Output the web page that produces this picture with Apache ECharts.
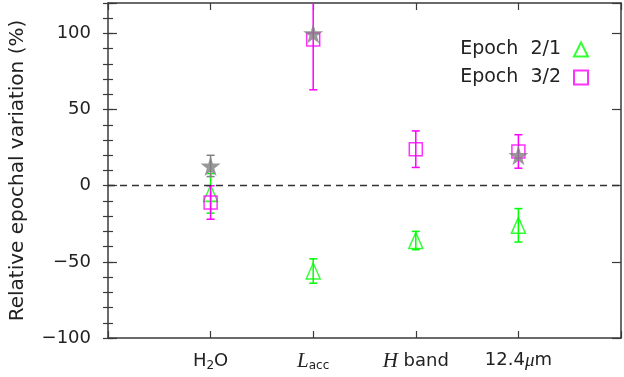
<!DOCTYPE html>
<html>
<head>
<meta charset="utf-8">
<script src="https://cdn.jsdelivr.net/npm/echarts@6/dist/echarts.min.js"></script>
<style>
  html, body { margin: 0; padding: 0; background: #fff; }
  #chart { width: 624px; height: 377px; }
</style>
</head>
<body>
<div id="chart"></div>
<script>
// categories along x (placed at 1..4)
const categories = ['H2O', 'Lacc', 'H band', '12.4um']
const catLabels = ['H{sub|2}O', '{it|L}{sub|acc}', '{it|H} band', '12.4{mu|μ}m']

// Epoch 2/1 (green triangles)
const epoch21 = [-5, -56, -36, -26]
const epoch21Err = [13, 8, 6, 11]
// Epoch 3/2 (magenta squares)
const epoch32 = [-11, 96, 24, 22.5]
const epoch32Err = [11, 33, 12, 11]
// grey stars
const stars = [13, 100, null, 20]
const starErr = [7, 0, null, 0]

const yTicks = [-100, -50, 0, 50, 100]

const GREEN = '#00ff00'
const MAGENTA = '#ff00ff'
const GREY = '#808080'
const AXIS = '#3a3a3a'
const FONT = 'DejaVu Sans'

const pts = (vals, errs) => vals.map((v, i) => v == null ? null : [i + 1, v, errs[i]]).filter(d => d)

const errorBars = (name, color, data, z) => ({
  type: 'custom',
  name: name,
  clip: true,
  z: z,
  renderItem: (params, api) => {
    const x = api.value(0), y = api.value(1), e = api.value(2)
    if (!e) return null
    const hi = api.coord([x, y + e])
    const lo = api.coord([x, y - e])
    const w = 4
    const st = { stroke: color, lineWidth: 1.5 }
    return {
      type: 'group',
      children: [
        { type: 'line', shape: { x1: hi[0], y1: hi[1], x2: lo[0], y2: lo[1] }, style: st },
        { type: 'line', shape: { x1: hi[0] - w, y1: hi[1], x2: hi[0] + w, y2: hi[1] }, style: st },
        { type: 'line', shape: { x1: lo[0] - w, y1: lo[1], x2: lo[0] + w, y2: lo[1] }, style: st }
      ]
    }
  },
  encode: { x: 0, y: 1 },
  data: data
})

const starPath = 'path://M50,0 L61,35 L98,35 L68,57 L79,91 L50,70 L21,91 L32,57 L2,35 L39,35 Z'

const yAxisBase = {
  type: 'value', min: -100, max: 120,
  splitLine: { show: false },
  axisLine: { show: false },
  axisLabel: { show: false }
}

const chart = echarts.init(document.getElementById('chart'))
chart.setOption({
  animation: false,
  backgroundColor: '#fff',
  grid: { left: 107, top: 3, width: 519, height: 335 },
  legend: {
    orient: 'vertical',
    right: 30,
    top: 35,
    align: 'right',
    itemWidth: 14,
    itemHeight: 14,
    itemGap: 9,
    data: ['Epoch 2/1', 'Epoch 3/2'],
    formatter: n => n.replace(' ', '  '),
    textStyle: { fontFamily: FONT, fontSize: 19, color: '#222', padding: [0, 8, 0, 0] }
  },
  xAxis: [{
    type: 'value', min: 0, max: 5, interval: 1,
    splitLine: { show: false },
    axisLine: { show: true, onZero: false, lineStyle: { color: AXIS, width: 1.5 } },
    axisTick: { show: true, inside: true, length: 7, lineStyle: { color: AXIS, width: 1.2 } },
    axisLabel: {
      margin: 13,
      fontFamily: FONT, fontSize: 18, color: '#222',
      formatter: v => (v >= 1 && v <= 4) ? catLabels[v - 1] : '',
      rich: {
        sub: { fontFamily: FONT, fontSize: 12, color: '#222', padding: [9, 0, 0, 0] },
        it: { fontFamily: 'Liberation Serif', fontStyle: 'italic', fontSize: 21, color: '#222' },
        mu: { fontFamily: 'Liberation Serif', fontStyle: 'italic', fontSize: 19, color: '#222' }
      }
    }
  }, {
    type: 'value', min: 0, max: 5, interval: 1, position: 'top',
    splitLine: { show: false },
    axisLine: { show: true, onZero: false, lineStyle: { color: AXIS, width: 1.5 } },
    axisTick: { show: true, inside: true, length: 7, lineStyle: { color: AXIS, width: 1.2 } },
    axisLabel: { show: false }
  }],
  yAxis: [{
    type: 'value', min: -100, max: 120, interval: 50, position: 'left',
    splitLine: { show: false },
    name: 'Relative epochal variation (%)',
    nameLocation: 'middle',
    nameGap: 80,
    nameTextStyle: { fontFamily: FONT, fontSize: 20, color: '#222' },
    axisLine: { show: true, onZero: false, lineStyle: { color: AXIS, width: 1.5 } },
    axisTick: { show: true, inside: true, length: 9, lineStyle: { color: AXIS, width: 1.2 } },
    axisLabel: {
      margin: 17,
      fontFamily: FONT, fontSize: 18, color: '#222',
      formatter: v => yTicks.includes(v) ? String(v).replace('-', '\u2212') : ''
    }
  }, Object.assign({}, yAxisBase, {
    position: 'left', interval: 10,
    axisTick: { show: true, inside: true, length: 5, lineStyle: { color: AXIS, width: 1.2 } }
  }), Object.assign({}, yAxisBase, {
    position: 'right', interval: 50,
    axisLine: { show: true, onZero: false, lineStyle: { color: AXIS, width: 1.5 } },
    axisTick: { show: true, inside: true, length: 9, lineStyle: { color: AXIS, width: 1.2 } }
  }), Object.assign({}, yAxisBase, {
    position: 'right', interval: 10,
    axisTick: { show: true, inside: true, length: 5, lineStyle: { color: AXIS, width: 1.2 } }
  })],
  series: [
    errorBars('err21', GREEN, pts(epoch21, epoch21Err), 2),
    {
      name: 'Epoch 2/1',
      type: 'scatter',
      z: 3,
      symbol: 'triangle',
      symbolSize: [14, 16],
      itemStyle: { color: 'rgba(0,0,0,0)', borderColor: GREEN, borderWidth: 1.5 },
      data: pts(epoch21, epoch21Err),
      markLine: {
        silent: true,
        symbol: 'none',
        label: { show: false },
        lineStyle: { color: '#333', type: [7, 5], width: 1.3 },
        data: [{ yAxis: 0 }]
      }
    },
    errorBars('err32', MAGENTA, pts(epoch32, epoch32Err), 4),
    {
      name: 'Epoch 3/2',
      type: 'scatter',
      z: 5,
      symbol: 'rect',
      symbolSize: 13,
      itemStyle: { color: 'rgba(0,0,0,0)', borderColor: MAGENTA, borderWidth: 1.5 },
      data: pts(epoch32, epoch32Err)
    },
    errorBars('errStar', GREY, pts(stars, starErr), 6),
    {
      name: 'stars',
      type: 'scatter',
      z: 7,
      symbol: starPath,
      symbolSize: 20,
      itemStyle: { color: GREY },
      data: pts(stars, starErr)
    }
  ]
})
</script>
</body>
</html>
